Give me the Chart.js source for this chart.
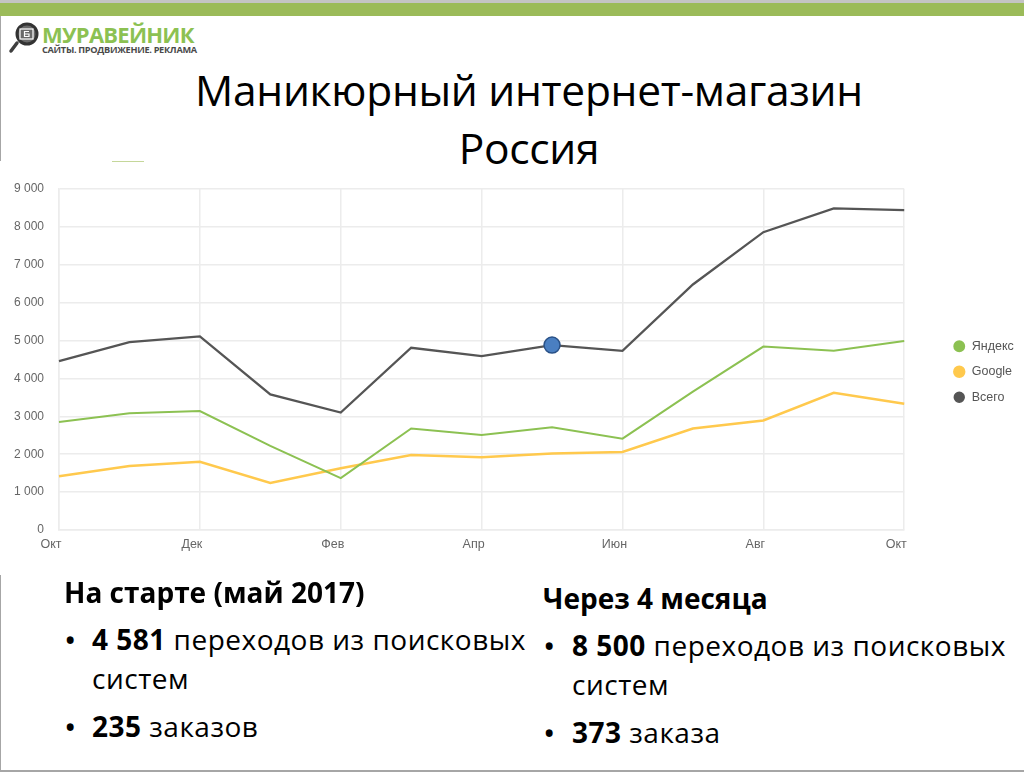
<!DOCTYPE html>
<html lang="ru"><head><meta charset="utf-8">
<script src="https://cdn.jsdelivr.net/npm/chart.js@4"></script>
<style>
html,body{margin:0;padding:0;background:#fff;overflow:hidden}
#page{position:relative;width:1024px;height:772px;overflow:hidden;background:#fff;color:#000;font-family:"Open Sans",sans-serif}
.abs{position:absolute;white-space:nowrap}
#chartBox{position:absolute;left:0;top:166px;width:1024px;height:410px}
.title{font-size:42.500px;line-height:60px;left:0;width:1058px;text-align:center;letter-spacing:-.3px}
.head{font-size:28px;font-weight:700;letter-spacing:0}
.txt{font-size:28px;letter-spacing:.5px}
.bul{font-size:33px;line-height:38px}
b{font-weight:700}
</style></head><body>
<div id="page">
 <div class="abs" style="left:0;top:0;width:1024px;height:3px;background:#c4c4c4"></div>
 <div class="abs" style="left:0;top:3px;width:1024px;height:13px;background:#9bbb59"></div>
 <div class="abs" style="left:0;top:16px;width:1px;height:145px;background:#a6a6a6"></div>
 <div class="abs" style="left:0;top:575px;width:1px;height:195px;background:#a6a6a6"></div>
 <div class="abs" style="left:0;top:770px;width:1024px;height:2px;background:#a6a6a6"></div>
 <div class="abs" style="left:112px;top:161px;width:32px;height:1px;background:#c5d79a"></div>
 <svg class="abs" style="left:8px;top:22px" width="36" height="34" viewBox="0 0 36 34">
  <circle cx="19" cy="12" r="10" fill="#6a6a6a" stroke="#333" stroke-width="3"/>
  <rect x="12" y="7" width="13" height="10" fill="none" stroke="#fff" stroke-width="1.200"/>
  <path d="M21 9.500H16.500V14.500H21V12H16.500" fill="none" stroke="#fff" stroke-width="1.200"/>
  <line x1="9" y1="21" x2="3" y2="29" stroke="#3f3f3f" stroke-width="3.500" stroke-linecap="round"/>
 </svg>
 <div class="abs" style="left:42px;top:17px;font-size:22px;line-height:34px;font-weight:700;color:#8cc152;letter-spacing:-.75px">МУРАВЕЙНИК</div>
 <div class="abs" style="left:42px;top:43px;font-size:9.200px;line-height:14px;font-weight:700;color:#4a4a4a;letter-spacing:-.3px">САЙТЫ. ПРОДВИЖЕНИЕ. РЕКЛАМА</div>
 <div class="abs title" style="top:60px">Маникюрный интернет-магазин</div>
 <div class="abs title" style="top:118px">Россия</div>
 <div id="chartBox"><canvas id="c"></canvas></div>
 <div class="abs head" style="left:64px;top:573px">На старте (май 2017)</div>
 <div class="abs bul" style="left:64px;top:621px">•</div>
 <div class="abs txt" style="left:92px;top:620px"><b>4 581</b> переходов из поисковых</div>
 <div class="abs txt" style="left:92px;top:659px">систем</div>
 <div class="abs bul" style="left:64px;top:708px">•</div>
 <div class="abs txt" style="left:92px;top:707px"><b>235</b> заказов</div>
 <div class="abs head" style="left:543px;top:579px">Через 4 месяца</div>
 <div class="abs bul" style="left:543px;top:627px">•</div>
 <div class="abs txt" style="left:572px;top:626px"><b>8 500</b> переходов из поисковых</div>
 <div class="abs txt" style="left:572px;top:665px">систем</div>
 <div class="abs bul" style="left:543px;top:714px">•</div>
 <div class="abs txt" style="left:572px;top:713px"><b>373</b> заказа</div>
</div>
<script>
const months = ["Окт","Ноя","Дек","Янв","Фев","Мар","Апр","Май","Июн","Июл","Авг","Сен","Окт"];
const yandex = [2850,3080,3140,2220,1370,2680,2510,2710,2410,3650,4840,4730,4990];
const google = [1420,1690,1800,1240,1630,1980,1920,2020,2060,2680,2890,3620,3330];
const total  = [4460,4960,5110,3580,3100,4810,4590,4880,4730,6480,7860,8490,8440];
const highlightIndex = 7;
const fmt = v => String(v).replace(/\B(?=(\d{3})+$)/g, " ");
const moveLegend = {id:"moveLegend", afterLayout(ch){ const l = ch.legend; const d = 326 - l.top - 165; l.top += d; l.bottom += d; l.left = 940; l.right = 1024; }};
new Chart(document.getElementById("c"), {
 type:"line",
 data:{labels:months, datasets:[
  {label:"Яндекс", data:yandex, borderColor:"#8cc152", backgroundColor:"#8cc152", pointBackgroundColor:"#8cc152", borderWidth:2, pointRadius:0, pointHoverRadius:0, tension:0},
  {label:"Google", data:google, borderColor:"#ffc94d", backgroundColor:"#ffc94d", pointBackgroundColor:"#ffc94d", borderWidth:2.500, pointRadius:0, pointHoverRadius:0, tension:0},
  {label:"Всего", data:total, borderColor:"#555555", backgroundColor:"#555555",
   pointBackgroundColor:months.map((m,i)=>i===highlightIndex?"#4a7fc1":"#555555"),
   pointBorderColor:months.map((m,i)=>i===highlightIndex?"#2a5288":"#555555"),
   pointBorderWidth:1.500, pointRadius:months.map((m,i)=>i===highlightIndex?8:0), borderWidth:2.300, tension:0}
 ]},
 plugins:[moveLegend],
 options:{
  responsive:true, maintainAspectRatio:false, animation:false,
  layout:{padding:{top:23,right:36,bottom:0,left:0}},
  plugins:{
   title:{display:false}, tooltip:{enabled:false},
   legend:{position:"right", align:"start", labels:{usePointStyle:true, boxHeight:7, padding:13, color:"#555555", font:{family:"'Liberation Sans'", size:12.500}}}
  },
  scales:{
   x:{grid:{color:"#ececec",lineWidth:1.500,drawTicks:false}, border:{color:"#ececec",width:1.500},
      afterFit(s){s.height=46},
      ticks:{autoSkip:true,maxTicksLimit:7,maxRotation:0,minRotation:0,labelOffset:-8,padding:7,color:"#666666",font:{family:"'Liberation Sans'",size:12.500}}},
   y:{min:0,max:9000,grid:{color:"#ececec",lineWidth:1.500,drawTicks:false}, border:{color:"#ececec",width:1.500},
      afterFit(s){s.width=59},
      ticks:{stepSize:1000,padding:15,color:"#666666",callback:v=>fmt(v),font:{family:"'Liberation Sans'",size:12}}}
  }
 }
});
</script>
</body></html>
